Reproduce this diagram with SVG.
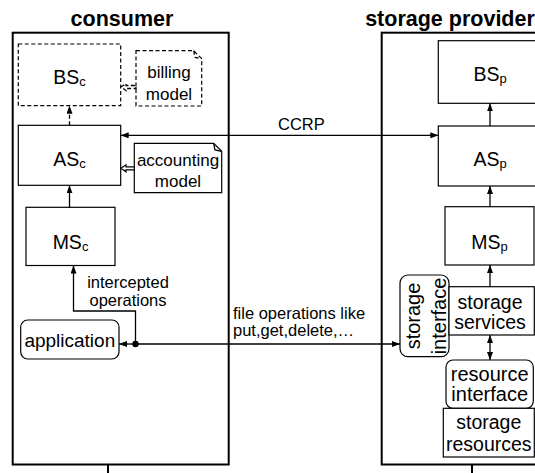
<svg xmlns="http://www.w3.org/2000/svg" width="535" height="473" viewBox="0 0 535 473">
  <style>
    text { font-family: "Liberation Sans", Arial, Helvetica, sans-serif; fill: #000; }
    .title { font-size: 21.5px; font-weight: bold; text-anchor: middle; }
    .box { font-size: 19.5px; text-anchor: middle; }
    .big { font-size: 20px; }
    .lbl { font-size: 16.5px; }
    .note { font-size: 17px; text-anchor: middle; }
    .sub { font-size: 13px; }
    .frame { fill: #fff; stroke: #000; stroke-width: 2; }
    .node { fill: #fff; stroke: #000; stroke-width: 1.2; }
    .dash { fill: #fff; stroke: #000; stroke-width: 1.2; stroke-dasharray: 4 2.5; }
    .wire { fill: none; stroke: #000; stroke-width: 1.3; }
    .wire-d { fill: none; stroke: #000; stroke-width: 1.3; stroke-dasharray: 4 2.5; }
  </style>
  <defs>
    <marker id="arr" viewBox="0 0 8 6" refX="8" refY="3" markerWidth="8" markerHeight="6" markerUnits="userSpaceOnUse" orient="auto-start-reverse">
      <path d="M0,0 L8,3 L0,6 z" fill="#000"/>
    </marker>
  </defs>

  <rect width="535" height="473" fill="#fff"/>

  <!-- side frames -->
  <g id="consumer">
    <text class="title" x="122" y="26">consumer</text>
    <rect class="frame" x="12.7" y="32.7" width="216" height="431.8"/>
    <line x1="108" y1="464.5" x2="108" y2="473" stroke="#000" stroke-width="2"/>
  </g>
  <g id="provider">
    <text class="title" x="450" y="26">storage provider</text>
    <rect class="frame" x="381.7" y="32.7" width="216" height="431.8"/>
    <line x1="472" y1="464.5" x2="472" y2="473" stroke="#000" stroke-width="2"/>
  </g>

  <!-- consumer side -->
  <g id="bs-c">
    <rect class="dash" x="18.3" y="44" width="102.4" height="61.7"/>
    <text class="box" x="69.5" y="84">BS<tspan class="sub" dy="2">c</tspan></text>
  </g>
  <g id="billing-model">
    <path class="dash" d="M136,50.7 H193.7 L201.7,58.7 V106 H136 Z"/>
    <path class="wire-d" stroke-width="1" d="M193.7,50.7 L195,57.4 L201.7,58.7"/>
    <text class="note" x="169" y="78">billing</text>
    <text class="note" x="169" y="100">model</text>
  </g>
  <g id="as-c">
    <rect class="node" x="18.3" y="125.3" width="102.4" height="60"/>
    <text class="box" x="69.5" y="166">AS<tspan class="sub" dy="2">c</tspan></text>
  </g>
  <g id="accounting-model">
    <path class="node" d="M134.3,143.3 H213.7 L221.7,151.3 V192.7 H134.3 Z"/>
    <path class="wire" stroke-width="1" d="M213.7,143.3 L215,150 L221.7,151.3"/>
    <text class="note" x="178" y="166">accounting</text>
    <text class="note" x="178" y="187">model</text>
  </g>
  <g id="ms-c">
    <rect class="node" x="26" y="207.3" width="89" height="58.2"/>
    <text class="box" x="70.5" y="249">MS<tspan class="sub" dy="2">c</tspan></text>
  </g>
  <g id="application">
    <rect class="node" x="20.7" y="320" width="98.3" height="39" rx="7"/>
    <text class="box" x="69.8" y="347" style="font-size:19px">application</text>
  </g>

  <!-- provider side -->
  <g id="bs-p">
    <rect class="node" x="438.3" y="40.7" width="102.4" height="62.6"/>
    <text class="box" x="490" y="81">BS<tspan class="sub" dy="2">p</tspan></text>
  </g>
  <g id="as-p">
    <rect class="node" x="438.3" y="126" width="102.4" height="60"/>
    <text class="box" x="490" y="166">AS<tspan class="sub" dy="2">p</tspan></text>
  </g>
  <g id="ms-p">
    <rect class="node" x="445" y="206.7" width="89" height="58.3"/>
    <text class="box" x="489.5" y="249">MS<tspan class="sub" dy="2">p</tspan></text>
  </g>
  <g id="storage-interface">
    <rect class="node" x="400" y="275" width="49" height="81.7" rx="8"/>
    <text class="box big" transform="translate(420,316) rotate(-90)">storage</text>
    <text class="box big" transform="translate(446,316) rotate(-90)">interface</text>
  </g>
  <g id="storage-services">
    <rect class="node" x="449" y="286.7" width="85.3" height="48.3"/>
    <text class="box" x="490" y="308.5">storage</text>
    <text class="box" x="490" y="328.5">services</text>
  </g>
  <g id="resource-interface">
    <rect class="node" x="446" y="360" width="87.3" height="48.3" rx="7"/>
    <text class="box big" x="489.7" y="381">resource</text>
    <text class="box big" x="489.7" y="401">interface</text>
  </g>
  <g id="storage-resources">
    <rect class="node" x="443.3" y="408.3" width="91" height="48.7"/>
    <text class="box" x="488.8" y="429">storage</text>
    <text class="box" x="488.8" y="451">resources</text>
  </g>

  <!-- connectors -->
  <g id="connectors">
    <!-- billing model refines BSc -->
    <polygon class="wire-d" fill="#fff" stroke-width="1" points="121,87 126,83.5 126,85.5 136,85.5 136,88.5 126,88.5 126,90.5"/>
    <!-- accounting model refines ASc -->
    <polygon class="node" stroke-width="1" points="121,168.3 126,164.8 126,166.8 134.3,166.8 134.3,169.8 126,169.8 126,171.8"/>
    <line class="wire-d" x1="69.5" y1="125.3" x2="69.5" y2="105.7" marker-end="url(#arr)"/>
    <line class="wire" x1="69.5" y1="207.3" x2="69.5" y2="185.3" marker-end="url(#arr)"/>
    <line class="wire" x1="120.7" y1="135.3" x2="438.3" y2="135.3" marker-start="url(#arr)" marker-end="url(#arr)"/>
    <text class="lbl" x="278" y="130">CCRP</text>
    <polyline class="wire" points="135.5,344 135.5,311 73.5,311 73.5,265.5" marker-end="url(#arr)"/>
    <text class="lbl" x="128" y="287.5" text-anchor="middle">intercepted</text>
    <text class="lbl" x="128" y="306" text-anchor="middle">operations</text>
    <line class="wire" x1="135.5" y1="344" x2="119" y2="344" marker-end="url(#arr)"/>
    <line class="wire" x1="135.5" y1="344" x2="400" y2="344" marker-end="url(#arr)"/>
    <circle cx="135.5" cy="344" r="3.2" fill="#000"/>
    <text class="lbl" x="233" y="318.5">file operations like</text>
    <text class="lbl" x="233" y="336">put,get,delete,…</text>
    <line class="wire" x1="490" y1="126" x2="490" y2="103.3" marker-end="url(#arr)"/>
    <line class="wire" x1="490" y1="206.7" x2="490" y2="186" marker-end="url(#arr)"/>
    <line class="wire" x1="490" y1="286.7" x2="490" y2="265" marker-end="url(#arr)"/>
    <line class="wire" x1="490" y1="335" x2="490" y2="360" marker-start="url(#arr)" marker-end="url(#arr)"/>
  </g>
</svg>
